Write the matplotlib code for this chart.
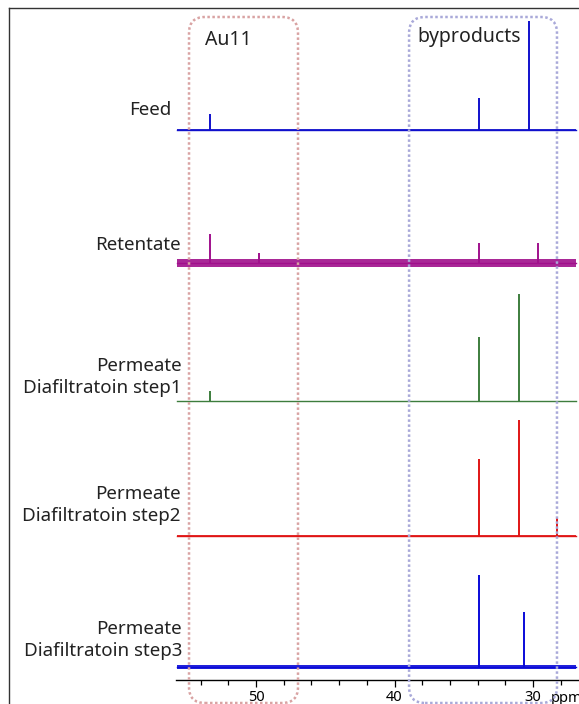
import numpy as np
import matplotlib.pyplot as plt
from matplotlib.patches import FancyBboxPatch
from matplotlib.lines import Line2D
from matplotlib.transforms import IdentityTransform, blended_transform_factory

plt.rcParams['font.family'] = ['Noto Sans', 'DejaVu Sans']

# Spectra (chemical shift in ppm, peak heights in plot units)
names = ["Feed", "Retentate", "Permeate\nDiafiltratoin step1",
         "Permeate\nDiafiltratoin step2", "Permeate\nDiafiltratoin step3"]
colors = ["#1010cc", "#a0108c", "#3d7d3d", "#e01515", "#0a0ad8"]
offsets = [550, 417, 279, 144, 13]
noise = [1.2, 3.8, 0.3, 1.1, 2.0]

feed_ppm = [53.32, 33.92, 30.29]
feed_h = [16, 32, 109]
ret_ppm = [53.32, 49.78, 33.92, 29.64]
ret_h = [29, 10, 20, 20]
step1_ppm = [53.32, 33.92, 31.03]
step1_h = [10, 64, 107]
step2_ppm = [33.92, 31.01, 28.27]
step2_h = [77, 116, 18]
step3_ppm = [33.92, 30.67]
step3_h = [92, 55]

peaks = [(feed_ppm, feed_h), (ret_ppm, ret_h), (step1_ppm, step1_h),
         (step2_ppm, step2_h), (step3_ppm, step3_h)]
label_x = [171, 181, 182, 181, 182]  # pixel columns (right edge) of the labels
label_y = [110, 245, 377, 505, 640]  # pixel rows of the labels

spec_range = (55.7, 26.9)
regions = [("Au11", 54.84, 46.97, "#d9a3a3"),
           ("byproducts", 38.95, 28.27, "#a9a9d9")]

W, H = 579, 704
fig = plt.figure(figsize=(W / 100, H / 100), dpi=100)
ax = fig.add_axes([176 / W, (H - 680) / H, (W - 176) / W, 672 / H])
ax.set_xlim(55.78, 26.68)
ax.set_ylim(0, 672)

for (px, ph), off, c, n in zip(peaks, offsets, colors, noise):
    ax.fill_between(spec_range, off - n, off + n, color=c, lw=0, alpha=0.9)
    ax.plot(spec_range, [off, off], color=c, lw=1)
    ax.vlines(px, off, np.array(ph) + off, color=c, lw=1.4)

for sp in ["top", "left", "right"]:
    ax.spines[sp].set_visible(False)
ax.spines["bottom"].set_linewidth(1)
ax.set_yticks([])
ax.set_xticks([50, 40, 30])
ax.set_xticks(np.arange(28, 56, 2), minor=True)
ax.tick_params(axis="x", which="major", length=5, width=0.9, labelsize=10.5, pad=2.5)
ax.tick_params(axis="x", which="minor", length=3.5, width=0.9)
tr = blended_transform_factory(ax.transData, ax.transAxes)
ax.text(28.7, -0.028, "ppm", transform=tr, ha="left", va="center", fontsize=10.5)

# spectrum labels
for name, x, y in zip(names, label_x, label_y):
    fig.text(x / W, 1 - y / H, name, ha="right", va="center",
             multialignment="right", fontsize=13.5, color="#222222", linespacing=1.25)

# dotted rounded boxes around regions
fig.canvas.draw()
for txt, p0, p1, c in regions:
    x0 = ax.transData.transform((p0, 0))[0]
    x1 = ax.transData.transform((p1, 0))[0]
    box = FancyBboxPatch((x0, H - 703), x1 - x0, 703 - 17,
                         boxstyle="round,pad=0,rounding_size=16",
                         transform=IdentityTransform(), fill=False,
                         ec=c, lw=1.8, ls=(0, (1, 1)))
    fig.add_artist(box)
fig.text(205 / W, 1 - 40 / H, "Au11", ha="left", va="center", fontsize=14, color="#222222")
fig.text(417 / W, 1 - 37 / H, "byproducts", ha="left", va="center", fontsize=14, color="#222222")

# outer frame
fig.add_artist(Line2D([9 / W, 9 / W], [0, 1 - 8 / H], transform=fig.transFigure, color="#333333", lw=1))
fig.add_artist(Line2D([9 / W, 1], [1 - 8 / H, 1 - 8 / H], transform=fig.transFigure, color="#333333", lw=1))

fig.savefig("out.png", dpi=100)
